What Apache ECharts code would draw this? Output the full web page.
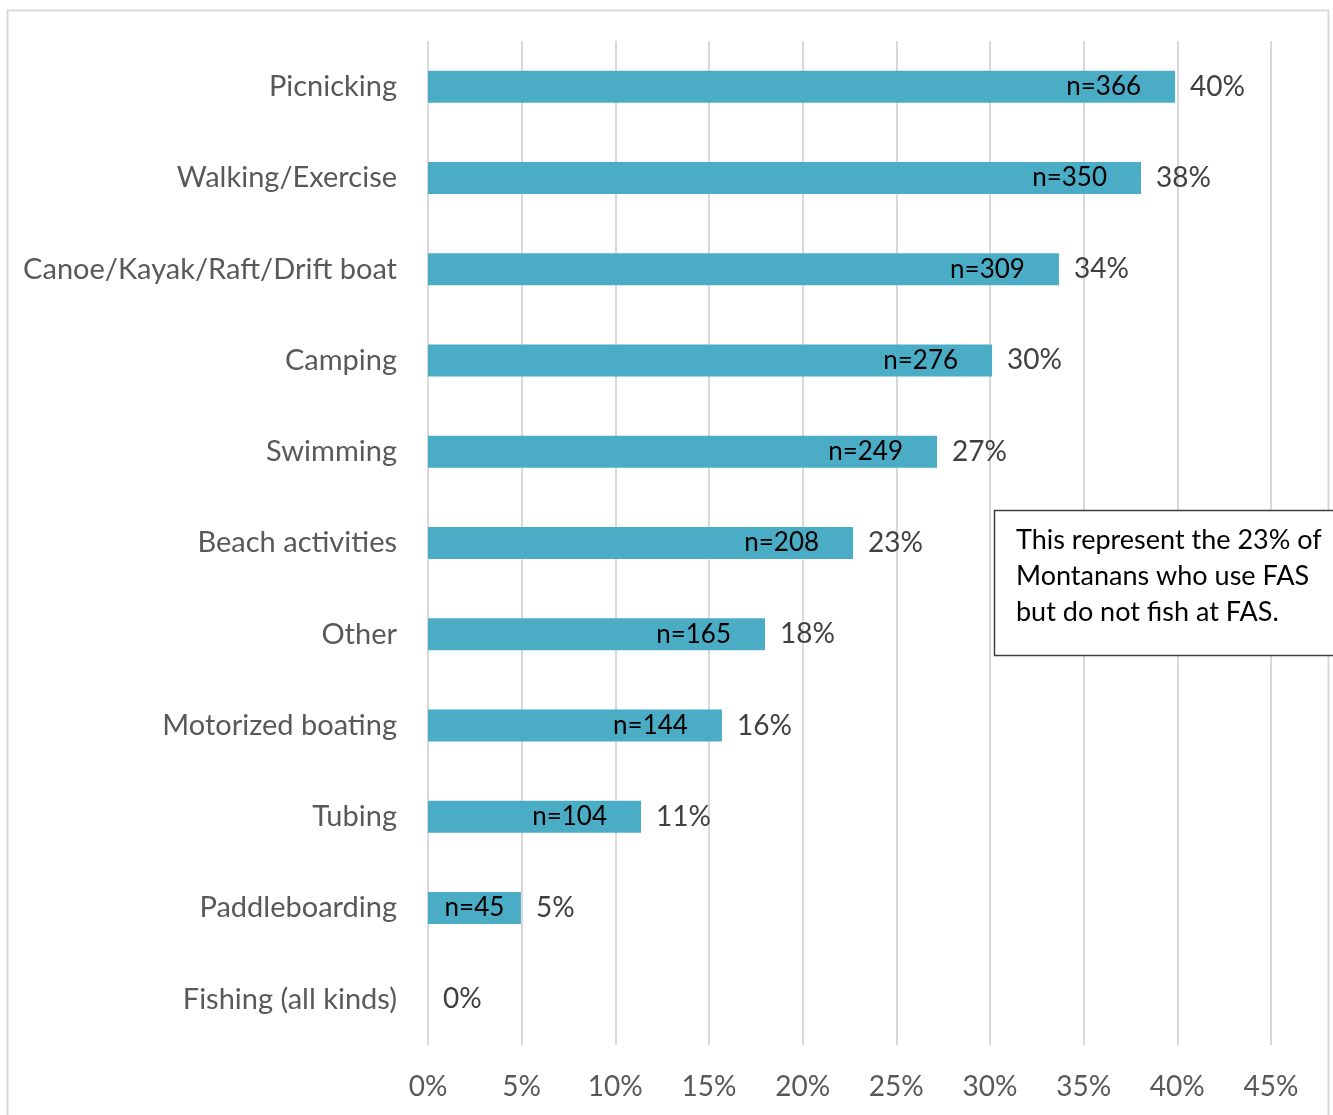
<!DOCTYPE html>
<html>
<head>
<meta charset="utf-8">
<script src="https://cdn.jsdelivr.net/npm/echarts@6/dist/echarts.min.js"></script>
<style>
  html, body { margin: 0; padding: 0; background: #fff; }
  #chart { width: 1333px; height: 1115px; }
</style>
</head>
<body>
<div id="chart"></div>
<script>
// Datos
const categories = ['Picnicking', 'Walking/Exercise', 'Canoe/Kayak/Raft/Drift boat', 'Camping', 'Swimming',
    'Beach activities', 'Other', 'Motorized boating', 'Tubing', 'Paddleboarding', 'Fishing (all kinds)'];
const percentValues = [39.88, 38.06, 33.68, 30.11, 27.17, 22.69, 17.99, 15.69, 11.37, 4.96, 0];
const countValues = [366, 350, 309, 276, 249, 208, 165, 144, 104, 45, 0];
const noteLines = ['This represent the 23% of', 'Montanans who use FAS', 'but do not fish at FAS.'];

const FONT = 'Lato';
const chart = echarts.init(document.getElementById('chart'));

// barras cortas: etiqueta centrada
const barData = percentValues.map(v => v < 8 ? { value: v, label: { position: 'inside' } } : v);

chart.setOption({
    backgroundColor: '#ffffff',
    animation: false,
    grid: { left: 428, right: 62, top: 41, bottom: 70, containLabel: false },
    xAxis: {
        type: 'value', min: 0, max: 45, interval: 5,
        axisLine: { show: false }, axisTick: { show: false },
        splitLine: { lineStyle: { color: '#d9d9d9', width: 2 } },
        axisLabel: { formatter: '{value}%', color: '#595959', fontSize: 28, fontFamily: FONT, margin: 28 }
    },
    yAxis: {
        type: 'category', data: categories, inverse: true,
        axisLine: { show: false }, axisTick: { show: false },
        axisLabel: { color: '#595959', fontSize: 29, fontFamily: FONT, margin: 31 }
    },
    series: [
        {
            name: 'n', type: 'bar', data: barData, barWidth: 32,
            itemStyle: { color: '#4bacc6' },
            label: {
                show: true, position: 'insideRight', distance: 34,
                formatter: p => countValues[p.dataIndex] ? 'n=' + countValues[p.dataIndex] : '',
                color: '#000', fontSize: 26, fontFamily: FONT
            }
        },
        {
            name: 'pct', type: 'bar', data: percentValues, barWidth: 32, barGap: '-100%',
            itemStyle: { color: 'transparent' },
            label: {
                show: true, position: 'right', distance: 15,
                formatter: p => Math.round(p.value) + '%',
                color: '#404040', fontSize: 28, fontFamily: FONT
            }
        }
    ],
    graphic: [
        {
            type: 'rect', shape: { x: 7.5, y: 10.5, width: 1321, height: 1130 },
            style: { fill: 'none', stroke: '#d9d9d9', lineWidth: 2 }, silent: true
        },
        {
            type: 'rect', shape: { x: 994.5, y: 510.5, width: 360, height: 145 },
            style: { fill: '#ffffff', stroke: '#404040', lineWidth: 1.5 }, z: 100
        },
        {
            type: 'text', left: 1016, top: 522, z: 101,
            style: { text: noteLines.join('\n'), fill: '#000', font: '27px ' + FONT, lineHeight: 36 }
        }
    ]
});
</script>
</body>
</html>
